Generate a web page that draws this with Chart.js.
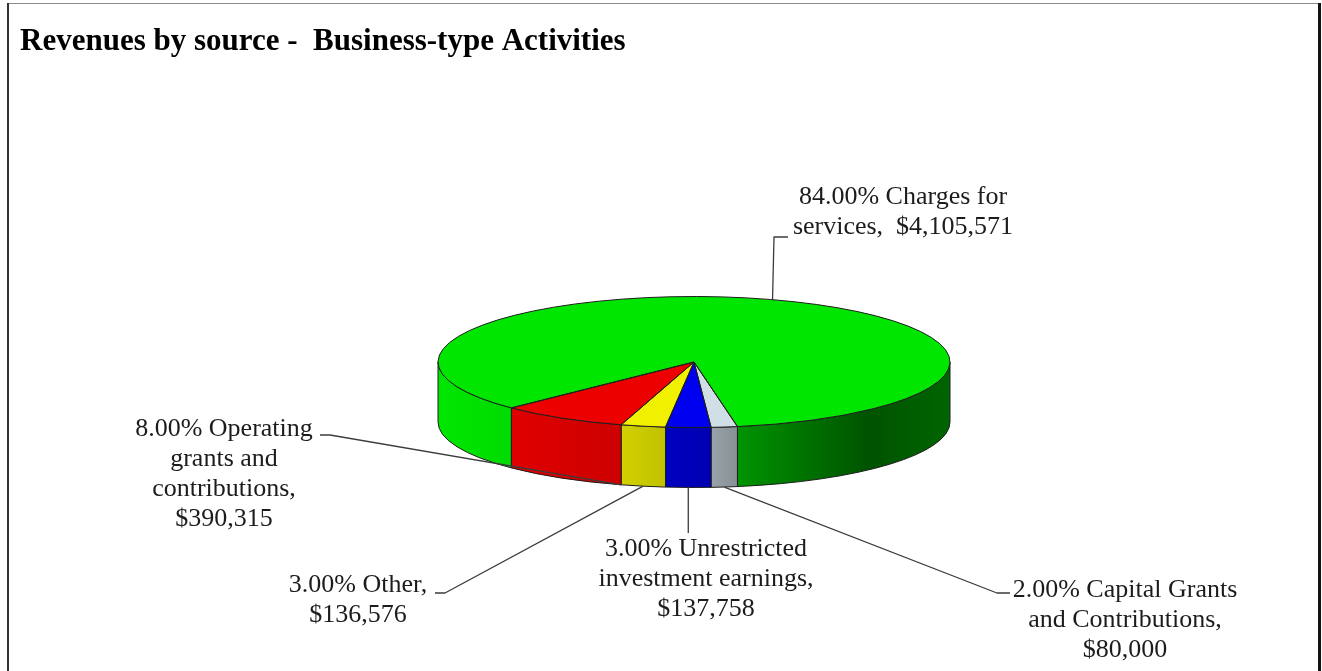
<!DOCTYPE html>
<html>
<head>
<meta charset="utf-8">
<title>Revenues by source - Business-type Activities</title>
<script src="https://cdn.jsdelivr.net/npm/chart.js@4.4.1/dist/chart.umd.min.js"></script>
<style>
  html, body { margin: 0; padding: 0; background: #fff; }
  #chart { display: block; }
</style>
</head>
<body>
<canvas id="chart" width="1322" height="671"></canvas>
<script>
// slices in drawing order (clockwise, starting with the big one)
var categories = ['Charges for services', 'Capital Grants and Contributions', 'Unrestricted investment earnings', 'Other', 'Operating grants and contributions'];
var amounts = [4105571, 80000, 137758, 136576, 390315];
var pctLabels = ['84.00%', '2.00%', '3.00%', '3.00%', '8.00%'];
var topColors = ['#00E600', '#D0DEE6', '#0000F0', '#F0F000', '#EC0000'];

var chartTitle = 'Revenues by source -  Business-type Activities';

// look of the fake 3d pie
var squash = 65.5 / 256;   // ry / rx
var depth = 60;            // height of the side wall
// brightness of side wall, left -> right across the pie
var sideShade = [[0, 1.0], [0.14, 0.95], [0.36, 0.87], [0.45, 0.8], [0.53, 0.74], [0.59, 0.64], [0.84, 0.36], [1, 0.44]];

// label boxes: center x, first line y, wrap width, where the leader touches the slice
var labelLayout = [
  { x: 903, y: 197, w: 250, frac: 0.5, face: 'top', elbow: [774, 237], end: [788, 237] },
  { x: 1125, y: 590, w: 232, frac: 0.5, face: 'bottom', elbow: [997, 593], end: [1010, 593] },
  { x: 706, y: 549, w: 228, frac: 0.5, face: 'bottom', elbow: null, end: [null, 533] },
  { x: 358, y: 585, w: 165, frac: 0.5, face: 'bottom', elbow: [445, 593], end: [435, 593] },
  { x: 224, y: 429, w: 190, frac: 0.0, face: 'bottom', elbow: [330, 435], end: [320, 435] }
];
var lineH = 30;

function money(n) {
  return '$' + n.toLocaleString('en-US');
}

function shade(hex, b) {
  var r = parseInt(hex.substr(1, 2), 16), g = parseInt(hex.substr(3, 2), 16), bl = parseInt(hex.substr(5, 2), 16);
  return 'rgb(' + Math.round(r * b) + ',' + Math.round(g * b) + ',' + Math.round(bl * b) + ')';
}

// parts of [s,e] that lie on the front half (0..PI)
function frontRanges(s, e) {
  var out = [];
  for (var k = -1; k <= 2; k++) {
    var a = Math.max(s, k * 2 * Math.PI), b = Math.min(e, k * 2 * Math.PI + Math.PI);
    if (b > a) out.push([a, b]);
  }
  return out;
}

function wrap(ctx, text, maxW) {
  var words = text.split(' ');
  var lines = [], line = '';
  words.forEach(function (w) {
    var test = line === '' ? w : line + ' ' + w;
    if (line.trim() !== '' && w !== '' && ctx.measureText(test.trim()).width > maxW) {
      lines.push(line.trim());
      line = w;
    } else {
      line = test;
    }
  });
  lines.push(line.trim());
  return lines;
}

var pie3d = {
  id: 'pie3d',
  beforeDraw: function (chart) {
    var ctx = chart.ctx;
    ctx.save();
    ctx.fillStyle = '#fff';
    ctx.fillRect(0, 0, chart.width, chart.height);
    // frame
    ctx.strokeStyle = '#8c8c8c';
    ctx.lineWidth = 1;
    ctx.beginPath(); ctx.moveTo(7, 3.5); ctx.lineTo(1319, 3.5); ctx.stroke();
    ctx.strokeStyle = '#333';
    ctx.lineWidth = 2;
    ctx.beginPath(); ctx.moveTo(8, 3); ctx.lineTo(8, chart.height); ctx.stroke();
    ctx.lineWidth = 3;
    ctx.strokeStyle = '#111';
    ctx.beginPath(); ctx.moveTo(1319.5, 3); ctx.lineTo(1319.5, chart.height); ctx.stroke();
    // title
    ctx.fillStyle = '#000';
    ctx.font = 'bold 31px "Liberation Serif"';
    ctx.textBaseline = 'middle';
    ctx.fillText(chartTitle, 20, 42);
    ctx.restore();
  },
  beforeDatasetsDraw: function (chart) {
    var ctx = chart.ctx;
    var arcs = chart.getDatasetMeta(0).data;
    var cx = arcs[0].x, cy = arcs[0].y, rx = arcs[0].outerRadius, ry = rx * squash;
    ctx.save();
    arcs.forEach(function (arc, i) {
      frontRanges(arc.startAngle, arc.endAngle).forEach(function (r) {
        var grad = ctx.createLinearGradient(cx - rx, 0, cx + rx, 0);
        sideShade.forEach(function (st) { grad.addColorStop(st[0], shade(topColors[i], st[1])); });
        ctx.beginPath();
        ctx.ellipse(cx, cy, rx, ry, 0, r[0], r[1]);
        ctx.ellipse(cx, cy + depth, rx, ry, 0, r[1], r[0], true);
        ctx.closePath();
        ctx.fillStyle = grad;
        ctx.fill();
        ctx.lineWidth = 1;
        ctx.strokeStyle = '#1e1e1e';
        ctx.stroke();
      });
    });
    ctx.restore();
    // squash the library's pie into the top face
    ctx.save();
    ctx.translate(0, cy);
    ctx.scale(1, squash);
    ctx.translate(0, -cy);
  },
  afterDatasetsDraw: function (chart) {
    var ctx = chart.ctx;
    ctx.restore();
    var arcs = chart.getDatasetMeta(0).data;
    var cx = arcs[0].x, cy = arcs[0].y, rx = arcs[0].outerRadius, ry = rx * squash;
    ctx.save();
    ctx.lineWidth = 1;
    ctx.strokeStyle = '#1e1e1e';
    ctx.lineJoin = 'round';
    arcs.forEach(function (arc) {
      ctx.beginPath();
      ctx.moveTo(cx, cy);
      ctx.ellipse(cx, cy, rx, ry, 0, arc.startAngle, arc.endAngle);
      ctx.closePath();
      ctx.stroke();
    });

    // leader lines + labels
    ctx.font = '26px "Liberation Serif"';
    ctx.textAlign = 'center';
    ctx.textBaseline = 'middle';
    arcs.forEach(function (arc, i) {
      var L = labelLayout[i];
      var a = arc.startAngle + (arc.endAngle - arc.startAngle) * L.frac;
      var ax = cx + rx * Math.cos(a);
      var ay = cy + ry * Math.sin(a) + (L.face === 'bottom' ? depth : 0);
      ctx.strokeStyle = '#3c3c3c';
      ctx.lineWidth = 1.3;
      ctx.beginPath();
      ctx.moveTo(ax, ay);
      if (L.elbow) ctx.lineTo(L.elbow[0], L.elbow[1]);
      ctx.lineTo(L.end[0] === null ? ax : L.end[0], L.end[1]);
      ctx.stroke();

      var text = pctLabels[i] + ' ' + categories[i] + ',  ' + money(amounts[i]);
      var lines = wrap(ctx, text, L.w);
      ctx.fillStyle = '#1c1c1c';
      lines.forEach(function (ln, j) {
        ctx.fillText(ln, L.x, L.y + j * lineH);
      });
    });
    ctx.restore();
  }
};

new Chart(document.getElementById('chart'), {
  type: 'pie',
  data: {
    labels: categories,
    datasets: [{
      data: amounts,
      backgroundColor: topColors,
      borderWidth: 0,
      radius: 256,
      clip: false
    }]
  },
  options: {
    responsive: false,
    animation: false,
    events: [],
    rotation: 225.5,
    layout: { padding: { left: 434, right: 368, top: 102, bottom: 49 } },
    plugins: {
      legend: { display: false },
      tooltip: { enabled: false },
      title: { display: false }
    }
  },
  plugins: [pie3d]
});
</script>
</body>
</html>
